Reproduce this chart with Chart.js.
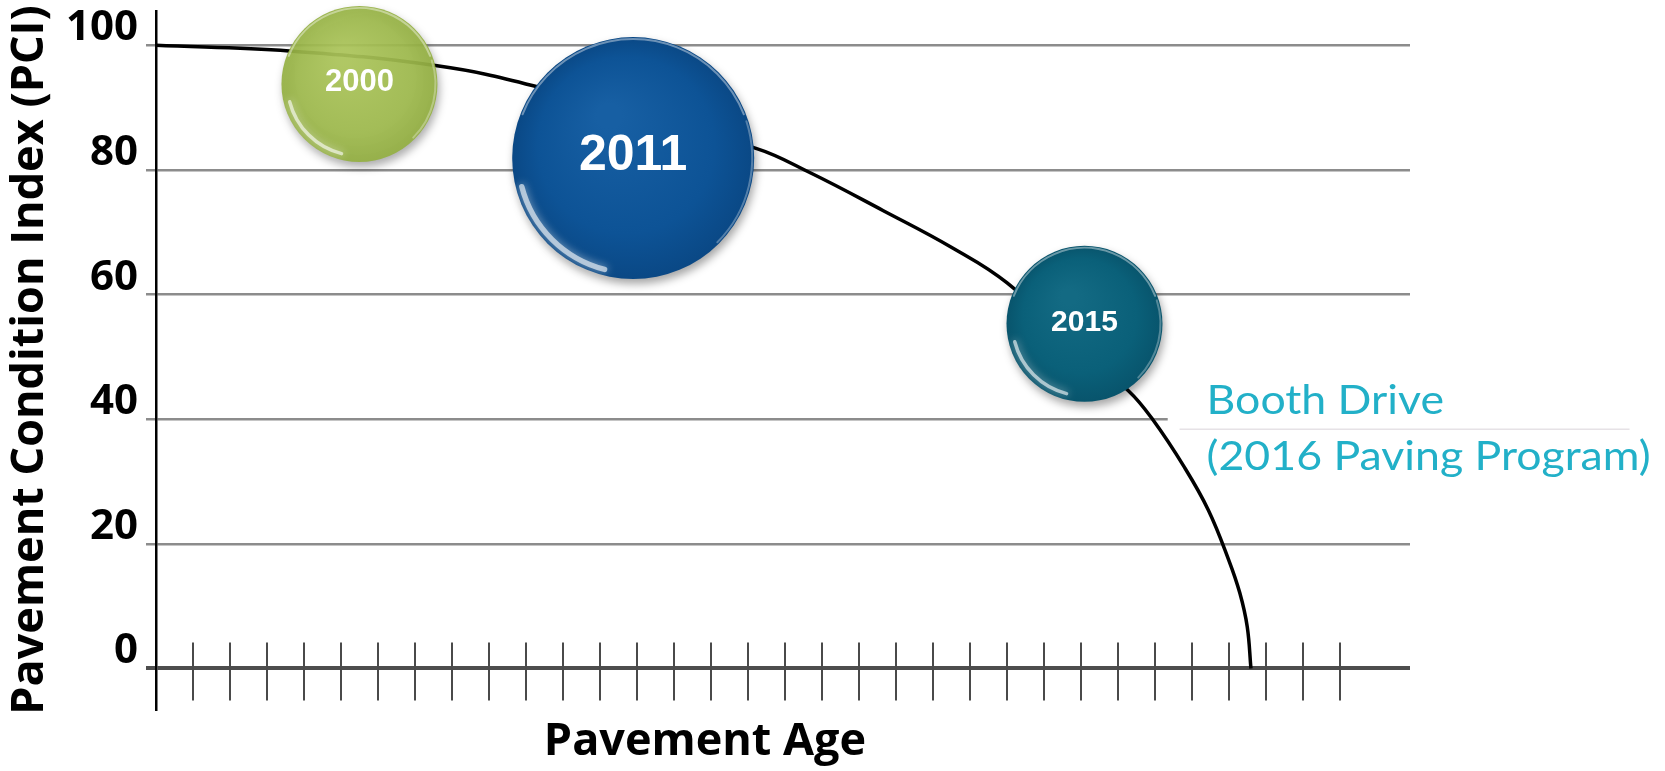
<!DOCTYPE html>
<html lang="en">
<head>
<meta charset="utf-8">
<title>Pavement Condition Index</title>
<script src="https://cdn.jsdelivr.net/npm/chart.js@4.4.1/dist/chart.umd.min.js"></script>
<style>
  html, body { margin: 0; padding: 0; background: #fff; }
  canvas { display: block; }
</style>
</head>
<body>
<canvas id="graficoPCI" width="1665" height="771"></canvas>
<script>
// =========================================================
// 1. DADOS DO GRÁFICO
// =========================================================
// Curva de deterioração: idade do pavimento x PCI
const idadeCurva = [0, 3.6, 7.6, 10.2, 16.2, 17.7, 19.65, 21.5, 23.0, 26.3, 26.95, 27.8, 28.45, 29.0, 29.3, 29.5, 29.6];
const pciCurva   = [100, 99.1, 96.7, 93.5, 83.5, 79.5, 73.5, 67.6, 61.9, 44.5, 39.9, 32.3, 25.4, 17.4, 12.1, 6.7, 0];

// Bolhas com o ano de cada avaliação da via
const anosBolhas  = ['2000', '2011', '2015'];
const idadeBolhas = [5.5, 12.9, 25.1];
const pciBolhas   = [93.8, 81.9, 55.3];
const raioBolhas  = [78, 121, 78];

// Marcas dos eixos
const ticksPCI   = [0, 20, 40, 60, 80, 100];
const ticksIdade = [1, 2, 3, 4, 5, 6, 7, 8, 9, 10, 11, 12, 13, 14, 15, 16,
                    17, 18, 19, 20, 21, 22, 23, 24, 25, 26, 27, 28, 29, 30, 31, 32];

// Texto da anotação à direita
const textoNota = ['Booth Drive', '(2016 Paving Program)'];


// =========================================================
// 2. ESTILO DAS BOLHAS
// =========================================================
const estiloBolhas = [
    { claro: 'rgba(176,202,92,0.9)', base: 'rgba(162,190,78,0.9)', escuro: 'rgba(148,176,66,0.92)', fonte: 31 },
    { claro: '#175fa3', base: '#0d5396', escuro: '#0a4885', fonte: 50 },
    { claro: '#136a83', base: '#0a6079', escuro: '#08546c', fonte: 30 }
];

// Gradiente radial de cada bolha (luz vindo de cima)
function corDaBolha(c) {
    if (c.type !== 'data' || !c.raw) return '#0d5396';
    const est = estiloBolhas[c.dataIndex];
    const { x, y } = c.chart.scales;
    const cx = x.getPixelForValue(c.raw.x);
    const cy = y.getPixelForValue(c.raw.y);
    const r = c.raw.r;
    // antes do layout as escalas ainda não têm pixels válidos
    if (!isFinite(cx) || !isFinite(cy)) return est.base;
    const g = c.chart.ctx.createRadialGradient(cx - r * 0.2, cy - r * 0.35, r * 0.1, cx, cy, r);
    g.addColorStop(0, est.claro);
    g.addColorStop(0.7, est.base);
    g.addColorStop(1, est.escuro);
    return g;
}


// =========================================================
// 3. PLUGIN: MARCAS DO EIXO, BRILHO DAS BOLHAS E ANOTAÇÃO
// =========================================================
const pluginDesenho = {
    id: 'desenhoExtra',

    beforeDatasetsDraw(chart) {
        const { ctx, chartArea, scales: { x, y } } = chart;
        const y0 = y.getPixelForValue(0);
        const y40 = y.getPixelForValue(40);
        ctx.save();

        // a linha de 40 termina antes da anotação
        const corte = x.getPixelForValue(27.35);
        ctx.fillStyle = '#fff';
        ctx.fillRect(corte, y40 - 4, chartArea.right - corte + 3, 8);

        // marcas verticais cruzando a linha do zero
        ctx.strokeStyle = '#4a4a4a';
        ctx.lineWidth = 2;
        x.ticks.forEach(t => {
            const px = Math.round(x.getPixelForValue(t.value));
            ctx.beginPath();
            ctx.moveTo(px, y0 - 26);
            ctx.lineTo(px, y0 + 32);
            ctx.stroke();
        });
        ctx.restore();
    },

    beforeDatasetDraw(chart, args) {
        if (args.meta.type !== 'bubble') return;
        const ctx = chart.ctx;
        ctx.save();
        ctx.shadowColor = 'rgba(0,0,0,0.35)';
        ctx.shadowBlur = 9;
        ctx.shadowOffsetX = 2;
        ctx.shadowOffsetY = 5;
    },

    afterDatasetDraw(chart, args) {
        if (args.meta.type !== 'bubble') return;
        const ctx = chart.ctx;
        ctx.restore(); // tira a sombra

        args.meta.data.forEach((ponto, i) => {
            const est = estiloBolhas[i];
            const r = ponto.options.radius;
            const px = ponto.x;
            const py = ponto.y;
            ctx.save();
            ctx.lineCap = 'round';

            // brilho fino na borda de cima
            ctx.strokeStyle = 'rgba(255,255,255,0.4)';
            ctx.lineWidth = 2;
            ctx.beginPath();
            ctx.arc(px, py, r - 2, Math.PI * 1.12, Math.PI * 1.88);
            ctx.stroke();

            // borda clara à direita
            ctx.strokeStyle = 'rgba(255,255,255,0.3)';
            ctx.beginPath();
            ctx.arc(px, py, r - 2, -Math.PI * 0.1, Math.PI * 0.25);
            ctx.stroke();

            // reflexo suave embaixo, à esquerda
            ctx.shadowColor = 'rgba(255,255,255,0.9)';
            ctx.shadowBlur = 8;
            ctx.strokeStyle = 'rgba(255,255,255,0.6)';
            ctx.lineWidth = Math.max(3, r * 0.045);
            ctx.beginPath();
            ctx.arc(px, py, r - 6, Math.PI * 0.58, Math.PI * 0.92);
            ctx.stroke();
            ctx.shadowBlur = 0;

            // ano no centro da bolha
            ctx.fillStyle = '#fff';
            ctx.font = `bold ${est.fonte}px "Liberation Sans", Arial, sans-serif`;
            ctx.textAlign = 'center';
            ctx.textBaseline = 'middle';
            ctx.fillText(anosBolhas[i], px, py - 1.5);
            ctx.restore();
        });
    },

    afterDraw(chart) {
        const { ctx, scales: { x, y } } = chart;
        const px = x.getPixelForValue(28.4);
        const py = y.getPixelForValue(40.8);
        ctx.save();

        // linha clarinha entre as duas linhas da nota
        ctx.strokeStyle = '#e6e2e6';
        ctx.lineWidth = 1.5;
        ctx.beginPath();
        ctx.moveTo(px - 27, py + 15);
        ctx.lineTo(px + 423, py + 15);
        ctx.stroke();

        ctx.fillStyle = '#22b0c8';
        ctx.font = '40px Lato, "Noto Sans", sans-serif';
        ctx.textBaseline = 'alphabetic';
        const esticar = 444 / ctx.measureText(textoNota[1]).width;
        textoNota.forEach((linha, i) => {
            ctx.save();
            ctx.translate(px, py + i * 56);
            ctx.scale(esticar, 1);
            ctx.fillText(linha, 0, 0);
            ctx.restore();
        });
        ctx.restore();
    }
};


// =========================================================
// 4. MONTAGEM DO GRÁFICO
// =========================================================
const grafico = new Chart(document.getElementById('graficoPCI'), {
    type: 'bubble',
    data: {
        datasets: [
            {
                type: 'bubble',
                label: 'Avaliações',
                order: 0,
                clip: false,
                data: anosBolhas.map((ano, i) => ({ x: idadeBolhas[i], y: pciBolhas[i], r: raioBolhas[i] })),
                backgroundColor: corDaBolha,
                borderWidth: 0
            },
            {
                type: 'line',
                label: 'PCI',
                order: 1,
                clip: false,
                data: idadeCurva.map((idade, i) => ({ x: idade, y: pciCurva[i] })),
                borderColor: '#000',
                borderWidth: 3.5,
                pointRadius: 0,
                fill: false,
                tension: 0.4
            }
        ]
    },
    options: {
        responsive: false,
        devicePixelRatio: 1,
        animation: false,
        events: [],
        // sem folga automática: as bolhas podem passar da área do gráfico
        layout: { autoPadding: false, padding: { top: 11, right: 255, bottom: 0, left: 0 } },
        plugins: {
            legend: { display: false },
            tooltip: { enabled: false },
            title: {
                display: true,
                position: 'bottom',
                text: 'Pavement Age',
                color: '#000',
                font: { family: 'Open Sans', size: 45, weight: 'bold', lineHeight: 1.2 },
                padding: { top: 6, bottom: 2 }
            }
        },
        scales: {
            x: {
                type: 'linear',
                min: 0,
                max: 33.9,
                grid: { display: false },
                border: { display: false },
                ticks: { display: false },
                afterBuildTicks: (escala) => { escala.ticks = ticksIdade.map(v => ({ value: v })); },
                afterFit: (escala) => { escala.height = 0; escala.paddingLeft = 0; escala.paddingRight = 0; }
            },
            y: {
                type: 'linear',
                min: -6.5,
                max: 105.5,
                afterBuildTicks: (escala) => { escala.ticks = ticksPCI.map(v => ({ value: v })); },
                afterFit: (escala) => { escala.width = 156; escala.paddingTop = 0; escala.paddingBottom = 0; },
                grid: {
                    color: (c) => (c.tick && c.tick.value === 0) ? '#4d4d4d' : '#8c8c8c',
                    lineWidth: (c) => (c.tick && c.tick.value === 0) ? 4 : 2.5,
                    tickLength: 10
                },
                border: { display: true, color: '#000', width: 2.5 },
                ticks: {
                    color: '#000',
                    font: { family: 'Open Sans', size: 42, weight: 'bold' },
                    padding: 8,
                    labelOffset: -17,
                    callback: (valor) => String(valor)
                },
                title: {
                    display: true,
                    text: 'Pavement Condition Index (PCI)',
                    color: '#000',
                    font: { family: 'Open Sans', size: 45, weight: 'bold', lineHeight: 1.2 },
                    padding: { top: 3, bottom: 0 }
                }
            }
        }
    },
    plugins: [pluginDesenho]
});
</script>
</body>
</html>
